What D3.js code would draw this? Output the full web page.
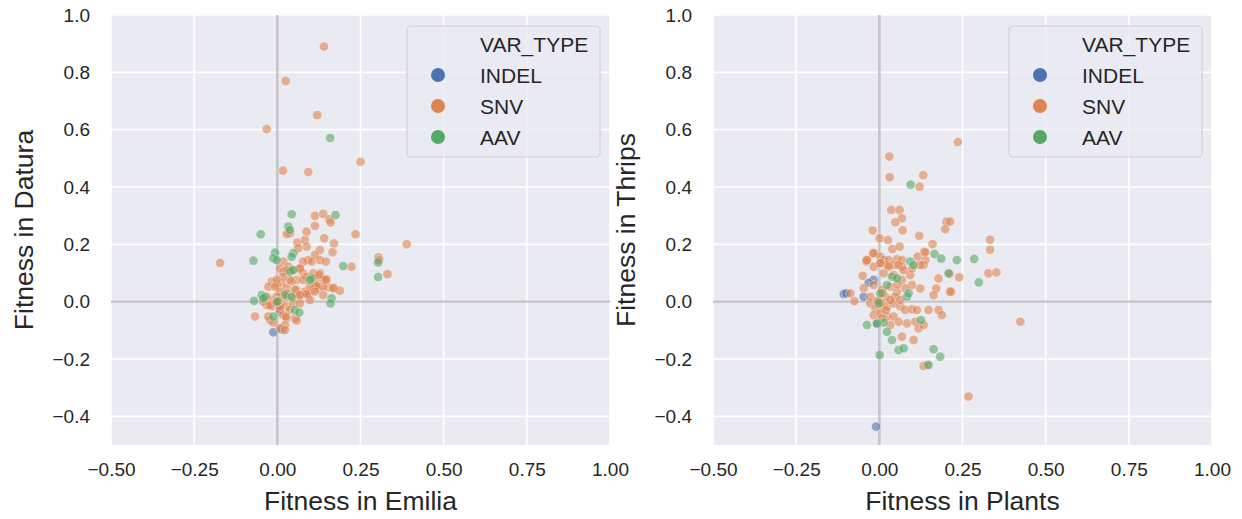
<!DOCTYPE html>
<html>
<head>
<meta charset="utf-8">
<script src="https://cdn.jsdelivr.net/npm/d3@7"></script>
<style>
  html, body { margin: 0; padding: 0; background: #ffffff; }
  svg { display: block; font-family: "Liberation Sans", Arial, sans-serif; }
</style>
</head>
<body>
<svg id="chart" width="1242" height="519"></svg>
<script>
// ---------------- DATA ----------------
const hueOrder = ["INDEL", "SNV", "AAV"];
const xTicks = [-0.5, -0.25, 0, 0.25, 0.5, 0.75, 1.0];
const yTicks = [-0.4, -0.2, 0, 0.2, 0.4, 0.6, 0.8, 1.0];

// Left panel: Fitness in Emilia (x) vs Fitness in Datura (y)
const leftINDEL = [[0.0, 0.0], [0.008, -0.035], [-0.012, -0.107], [0.013, -0.097], [0.003, -0.012]];
const leftSNV = [
  [0.14, 0.89], [0.025, 0.77], [0.12, 0.651], [-0.032, 0.602], [0.25, 0.488], [0.017, 0.457], [0.093, 0.452],
  [-0.172, 0.135], [0.389, 0.2], [0.304, 0.155], [0.306, 0.145], [0.331, 0.096], [0.223, 0.122],
  [0.113, 0.299], [0.138, 0.306], [0.156, 0.287], [0.160, 0.276], [0.113, 0.264], [0.038, 0.238], [0.028, 0.236],
  [0.088, 0.244], [0.235, 0.235], [0.141, 0.221], [0.06, 0.206], [0.083, 0.215], [0.088, 0.192], [0.170, 0.203],
  [0.063, 0.186], [0.128, 0.180], [0.113, 0.163], [0.166, 0.172], [0.093, 0.145], [0.103, 0.140], [0.078, 0.140],
  [0.128, 0.145], [0.146, 0.140], [0.018, 0.140], [0.008, 0.116], [0.018, 0.105], [0.033, 0.122], [0.068, 0.116],
  [0.078, 0.099], [0.088, 0.087], [0.128, 0.099], [0.113, 0.081], [0.138, 0.076], [0.148, 0.078], [0.058, 0.076],
  [0.043, 0.070], [0.013, 0.064], [-0.002, 0.058], [-0.017, 0.070], [-0.027, 0.052], [0.028, 0.047], [0.058, 0.041],
  [0.083, 0.035], [0.108, 0.041], [0.123, 0.047], [0.153, 0.050], [0.171, 0.047], [0.188, 0.038], [0.118, 0.055],
  [0.138, 0.052], [0.048, 0.017], [0.068, 0.023], [0.093, 0.023], [0.098, 0.006], [-0.022, 0.006], [-0.032, -0.012],
  [-0.017, -0.017], [0.013, -0.006], [0.028, -0.017], [0.038, -0.029], [0.008, -0.029], [0.018, -0.047],
  [0.028, -0.058], [0.053, -0.058], [-0.067, -0.052], [-0.022, -0.064], [0.023, -0.081], [0.008, -0.093],
  [0.028, 0.110], [0.043, 0.110], [0.068, 0.116], [0.108, 0.099], [0.126, 0.093], [0.146, 0.076], [0.118, 0.055],
  [0.098, 0.052], [0.078, 0.076], [0.038, 0.076], [0.018, 0.087], [-0.002, 0.076], [-0.007, 0.052], [0.008, 0.035],
  [0.028, 0.029], [0.053, 0.041], [0.068, 0.023], [0.088, 0.027], [0.113, 0.035], [0.138, 0.023], [0.168, 0.047],
  [0.028, 0.017], [-0.002, 0.017], [-0.032, 0.017], [-0.042, 0.0], [-0.022, -0.012], [0.008, -0.017],
  [0.048, -0.006], [0.068, -0.006], [-0.027, -0.052], [-0.012, -0.073], [0.026, -0.052], [0.058, -0.066],
  [0.023, -0.099], [0.0, 0.0], [0.004, 0.003], [-0.004, -0.002]
];
const leftAAV = [
  [0.159, 0.571], [0.303, 0.137], [0.303, 0.086], [0.043, 0.305], [0.175, 0.302], [-0.05, 0.235], [0.033, 0.262],
  [0.038, 0.25], [-0.072, 0.143], [-0.007, 0.171], [-0.012, 0.151], [-0.002, 0.145], [0.048, 0.169], [0.043, 0.157],
  [0.198, 0.124], [0.038, 0.105], [0.048, 0.110], [0.103, 0.081], [0.098, 0.076], [-0.047, 0.023], [-0.037, 0.017],
  [-0.042, 0.012], [0.023, 0.023], [0.043, 0.017], [-0.07, 0.003], [0.163, 0.012], [0.160, -0.006],
  [-0.012, -0.052], [0.053, -0.029], [0.066, -0.038], [0.0, 0.0]
];

// Right panel: Fitness in Plants (x) vs Fitness in Thrips (y)
const rightINDEL = [[-0.010, -0.436], [-0.107, 0.027], [-0.099, 0.029], [-0.017, 0.076], [-0.032, 0.066],
  [-0.047, 0.017], [-0.007, -0.076], [0.0, 0.0]];
const rightSNV = [
  [0.236, 0.557], [0.030, 0.506], [0.031, 0.434], [0.132, 0.441], [0.121, 0.401], [0.036, 0.320], [0.061, 0.320],
  [0.068, 0.291], [0.048, 0.277], [0.070, 0.249], [-0.02, 0.248], [0.202, 0.279], [0.198, 0.253], [0.001, 0.221],
  [0.026, 0.215], [0.120, 0.230], [0.160, 0.201], [0.039, 0.184], [0.061, 0.192], [-0.019, 0.169], [-0.039, 0.145],
  [0.135, 0.174], [0.115, 0.157], [0.138, 0.145], [0.003, 0.157], [0.013, 0.145], [0.028, 0.145], [0.053, 0.148],
  [0.068, 0.145], [0.003, 0.134], [0.023, 0.128], [0.043, 0.128], [0.068, 0.122], [0.333, 0.216], [0.333, 0.181],
  [0.328, 0.099], [0.352, 0.102], [0.240, 0.085], [0.216, 0.035], [0.213, 0.279], [0.268, -0.331], [0.424, -0.070],
  [-0.039, 0.140], [-0.050, 0.090], [-0.087, 0.029], [-0.075, 0.002], [0.178, 0.081], [0.211, 0.097],
  [0.213, 0.035], [0.171, 0.046], [0.163, 0.023], [0.148, -0.029], [0.178, -0.029], [0.188, -0.047],
  [0.123, 0.046], [0.093, 0.093], [0.098, 0.058], [0.083, -0.076], [0.108, -0.070], [0.118, -0.093],
  [0.133, -0.081], [0.068, -0.122], [0.103, -0.134], [0.133, -0.224], [0.143, -0.221], [0.138, 0.172],
  [0.133, 0.128], [-0.017, 0.169], [-0.037, 0.145],
  [-0.017, 0.122], [0.003, 0.134], [0.028, 0.122], [0.058, 0.128], [0.073, 0.110], [0.013, 0.099], [0.043, 0.093],
  [0.068, 0.076], [0.098, 0.116], [0.123, 0.128], [-0.017, 0.058], [0.008, 0.041], [0.033, 0.052], [0.053, 0.035],
  [0.078, 0.047], [-0.027, -0.006], [-0.012, -0.023], [0.008, -0.012], [0.023, -0.017], [0.043, -0.006],
  [0.063, -0.017], [0.078, -0.029], [0.098, -0.027], [0.113, -0.029], [-0.017, -0.047], [0.003, -0.041],
  [0.023, -0.052], [0.043, -0.052], [0.058, -0.070], [0.033, -0.081], [0.008, -0.058], [-0.007, 0.0],
  [0.018, 0.017], [0.048, 0.017], [0.063, 0.006], [0.033, 0.006], [-0.027, 0.017], [-0.047, 0.047],
  [0.0, 0.0], [0.004, -0.004], [-0.004, 0.003], [0.010, 0.030], [0.020, -0.030], [0.055, 0.060]
];
const rightAAV = [
  [0.094, 0.408], [0.166, 0.166], [0.186, 0.150], [0.233, 0.145], [0.093, 0.140], [0.103, 0.128], [0.285, 0.149],
  [0.208, 0.099], [0.299, 0.067], [0.003, 0.029], [-0.002, -0.006], [0.038, 0.087], [0.023, 0.058], [0.053, 0.081],
  [0.083, 0.017], [0.088, 0.029], [-0.037, -0.081], [0.013, -0.073], [0.023, -0.105], [0.038, -0.134],
  [0.058, -0.169], [0.073, -0.163], [0.001, -0.186], [0.125, -0.064], [0.163, -0.166], [0.183, -0.192],
  [0.148, -0.221], [-0.007, -0.076]
];

// ---------------- DRAW ----------------
const colors = { INDEL: "#4C72B0", SNV: "#DD8452", AAV: "#55A868" };
const textColor = "#262626";
const svg = d3.select("#chart");

const panels = [
  { left: 111, xlabel: "Fitness in Emilia", ylabel: "Fitness in Datura",
    series: { INDEL: leftINDEL, SNV: leftSNV, AAV: leftAAV } },
  { left: 713, xlabel: "Fitness in Plants", ylabel: "Fitness in Thrips",
    series: { INDEL: rightINDEL, SNV: rightSNV, AAV: rightAAV } }
];

const plotTop = 15, plotBottom = 445, plotWidth = 499;

panels.forEach(p => {
  const x = d3.scaleLinear().domain([-0.5, 1.0]).range([p.left, p.left + plotWidth]);
  const y = d3.scaleLinear().domain([-0.5, 1.0]).range([plotBottom, plotTop]);
  const g = svg.append("g");

  g.append("rect").attr("x", p.left).attr("y", plotTop)
    .attr("width", plotWidth).attr("height", plotBottom - plotTop).attr("fill", "#EAEAF2");

  // grid
  g.append("g").selectAll("line").data(xTicks).join("line")
    .attr("x1", d => x(d)).attr("x2", d => x(d)).attr("y1", plotTop).attr("y2", plotBottom)
    .attr("stroke", "#fff").attr("stroke-width", 1.6);
  g.append("g").selectAll("line").data(yTicks).join("line")
    .attr("y1", d => y(d)).attr("y2", d => y(d)).attr("x1", p.left).attr("x2", p.left + plotWidth)
    .attr("stroke", "#fff").attr("stroke-width", 1.6);

  // zero lines
  g.append("line").attr("x1", x(0)).attr("x2", x(0)).attr("y1", plotTop).attr("y2", plotBottom)
    .attr("stroke", "#808080").attr("stroke-opacity", 0.45).attr("stroke-width", 2.4);
  g.append("line").attr("x1", p.left).attr("x2", p.left + plotWidth).attr("y1", y(0)).attr("y2", y(0))
    .attr("stroke", "#808080").attr("stroke-opacity", 0.45).attr("stroke-width", 2.4);

  // points
  hueOrder.forEach(h => {
    g.append("g").selectAll("circle").data(p.series[h]).join("circle")
      .attr("cx", d => x(d[0])).attr("cy", d => y(d[1])).attr("r", 4.6)
      .attr("fill", colors[h]).attr("fill-opacity", 0.6)
      .attr("stroke", "#fff").attr("stroke-opacity", 0.6).attr("stroke-width", 0.6);
  });

  // axes (tick labels only)
  const xAxis = g.append("g").attr("transform", `translate(0,${plotBottom})`)
    .call(d3.axisBottom(x).tickValues(xTicks).tickFormat(d3.format(".2f")).tickSize(0).tickPadding(18));
  const yAxis = g.append("g").attr("transform", `translate(${p.left},0)`)
    .call(d3.axisLeft(y).tickValues(yTicks).tickFormat(d3.format(".1f")).tickSize(0).tickPadding(21));
  [xAxis, yAxis].forEach(a => {
    a.select(".domain").remove();
    a.selectAll("text").attr("font-size", 19).attr("fill", textColor)
      .attr("font-family", '"Liberation Sans", Arial, sans-serif');
  });

  // axis labels
  g.append("text").attr("x", p.left + plotWidth / 2).attr("y", 510)
    .attr("text-anchor", "middle").attr("font-size", 26.5).attr("fill", textColor).text(p.xlabel);
  g.append("text").attr("transform", `translate(${p.left - 78},${(plotTop + plotBottom) / 2}) rotate(-90)`)
    .attr("text-anchor", "middle").attr("font-size", 26.5).attr("fill", textColor).text(p.ylabel);

  // legend
  const lx = p.left + plotWidth - 10 - 193, ly = plotTop + 11;
  const lg = g.append("g");
  lg.append("rect").attr("x", lx).attr("y", ly).attr("width", 193).attr("height", 131)
    .attr("rx", 4).attr("fill", "#EAEAF2").attr("fill-opacity", 0.8)
    .attr("stroke", "#cfcfd6").attr("stroke-width", 1.2);
  lg.append("text").attr("x", lx + 73).attr("y", ly + 18).attr("dy", "0.36em")
    .attr("font-size", 21).attr("fill", textColor).text("VAR_TYPE");
  hueOrder.forEach((h, i) => {
    const cy = ly + 49 + i * 31;
    lg.append("circle").attr("cx", lx + 31).attr("cy", cy).attr("r", 7).attr("fill", colors[h]);
    lg.append("text").attr("x", lx + 73).attr("y", cy).attr("dy", "0.36em")
      .attr("font-size", 21).attr("fill", textColor).text(h);
  });
});
</script>
</body>
</html>
